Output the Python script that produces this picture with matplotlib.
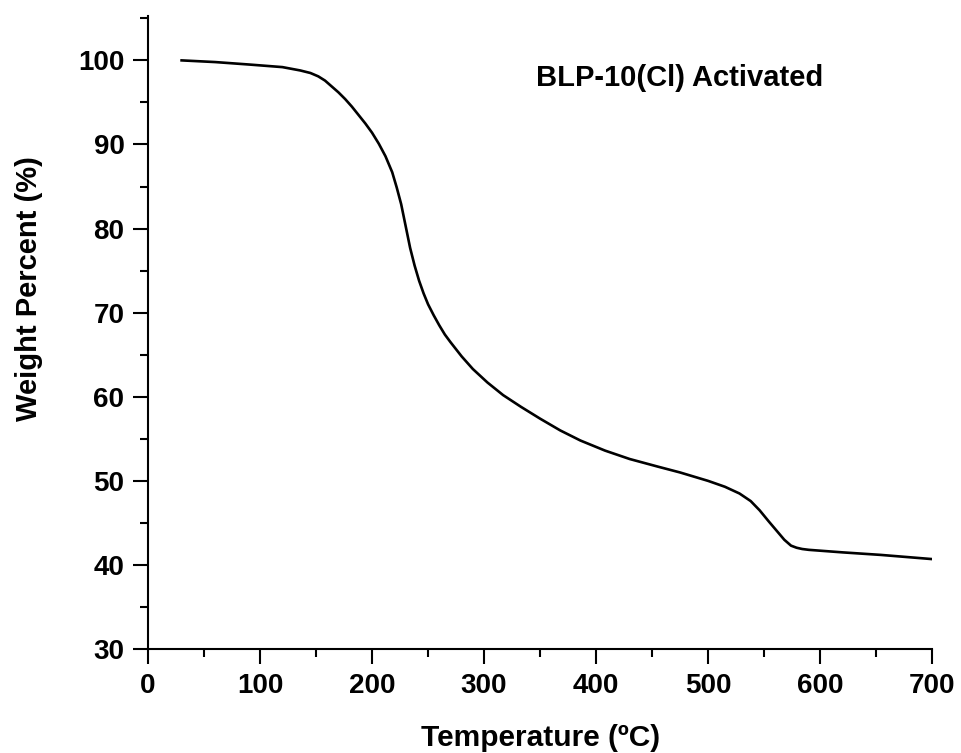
import matplotlib.pyplot as plt
from matplotlib.ticker import MultipleLocator

plt.rcParams['font.family'] = ['Liberation Sans', 'DejaVu Sans']
plt.rcParams['font.weight'] = 'bold'

# TGA curve
temperature = [30, 60, 91, 120, 136, 145, 152, 158, 164, 170, 176, 182, 188, 194,
               200, 206, 212, 218, 222, 226, 230, 234, 238, 242, 246, 250, 255,
               260, 265, 270, 280, 290, 303, 317, 333, 350, 368, 386, 408, 430,
               455, 475, 500, 515, 528, 538, 546, 554, 561, 568, 574, 579, 584,
               590, 600, 620, 654, 700]
weight = [100.0, 99.8, 99.5, 99.2, 98.8, 98.5, 98.1, 97.6, 96.9, 96.2, 95.4, 94.5,
          93.5, 92.5, 91.4, 90.1, 88.6, 86.7, 84.9, 82.9, 80.3, 77.7, 75.6, 73.8,
          72.3, 71.0, 69.7, 68.5, 67.4, 66.5, 64.8, 63.3, 61.7, 60.2, 58.8, 57.4,
          56.0, 54.8, 53.6, 52.6, 51.7, 51.0, 50.0, 49.3, 48.5, 47.6, 46.5, 45.2,
          44.1, 43.0, 42.3, 42.05, 41.9, 41.8, 41.7, 41.5, 41.2, 40.7]

sample_label = 'BLP-10(Cl) Activated'

fig = plt.figure(figsize=(9.61, 7.53), dpi=100)
ax = fig.add_axes([0.154, 0.138, 0.816, 0.841])

ax.plot(temperature, weight, color='black', linewidth=1.9)

ax.set_xlim(0, 700)
ax.set_ylim(30, 105.3)
ax.xaxis.set_major_locator(MultipleLocator(100))
ax.xaxis.set_minor_locator(MultipleLocator(50))
ax.yaxis.set_minor_locator(MultipleLocator(5))
ax.set_yticks(range(30, 101, 10))

for side in ['top', 'right']:
    ax.spines[side].set_visible(False)
for side in ['left', 'bottom']:
    ax.spines[side].set_linewidth(1.5)

ax.tick_params(which='major', direction='out', length=11, width=1.5,
               labelsize=20, pad=6)
ax.tick_params(which='minor', direction='out', length=6, width=1.5)
for lbl in ax.get_xticklabels() + ax.get_yticklabels():
    lbl.set_fontweight('bold')

ax.set_xlabel('Temperature (ºC)', fontsize=21.5, fontweight='bold', labelpad=18)
ax.set_ylabel('Weight Percent (%)', fontsize=21, fontweight='bold')
ax.yaxis.set_label_coords(-0.134, 0.569)

ax.text(475, 97.9, sample_label, fontsize=21, fontweight='bold',
        ha='center', va='center')

fig.savefig('out.png', dpi=100)
